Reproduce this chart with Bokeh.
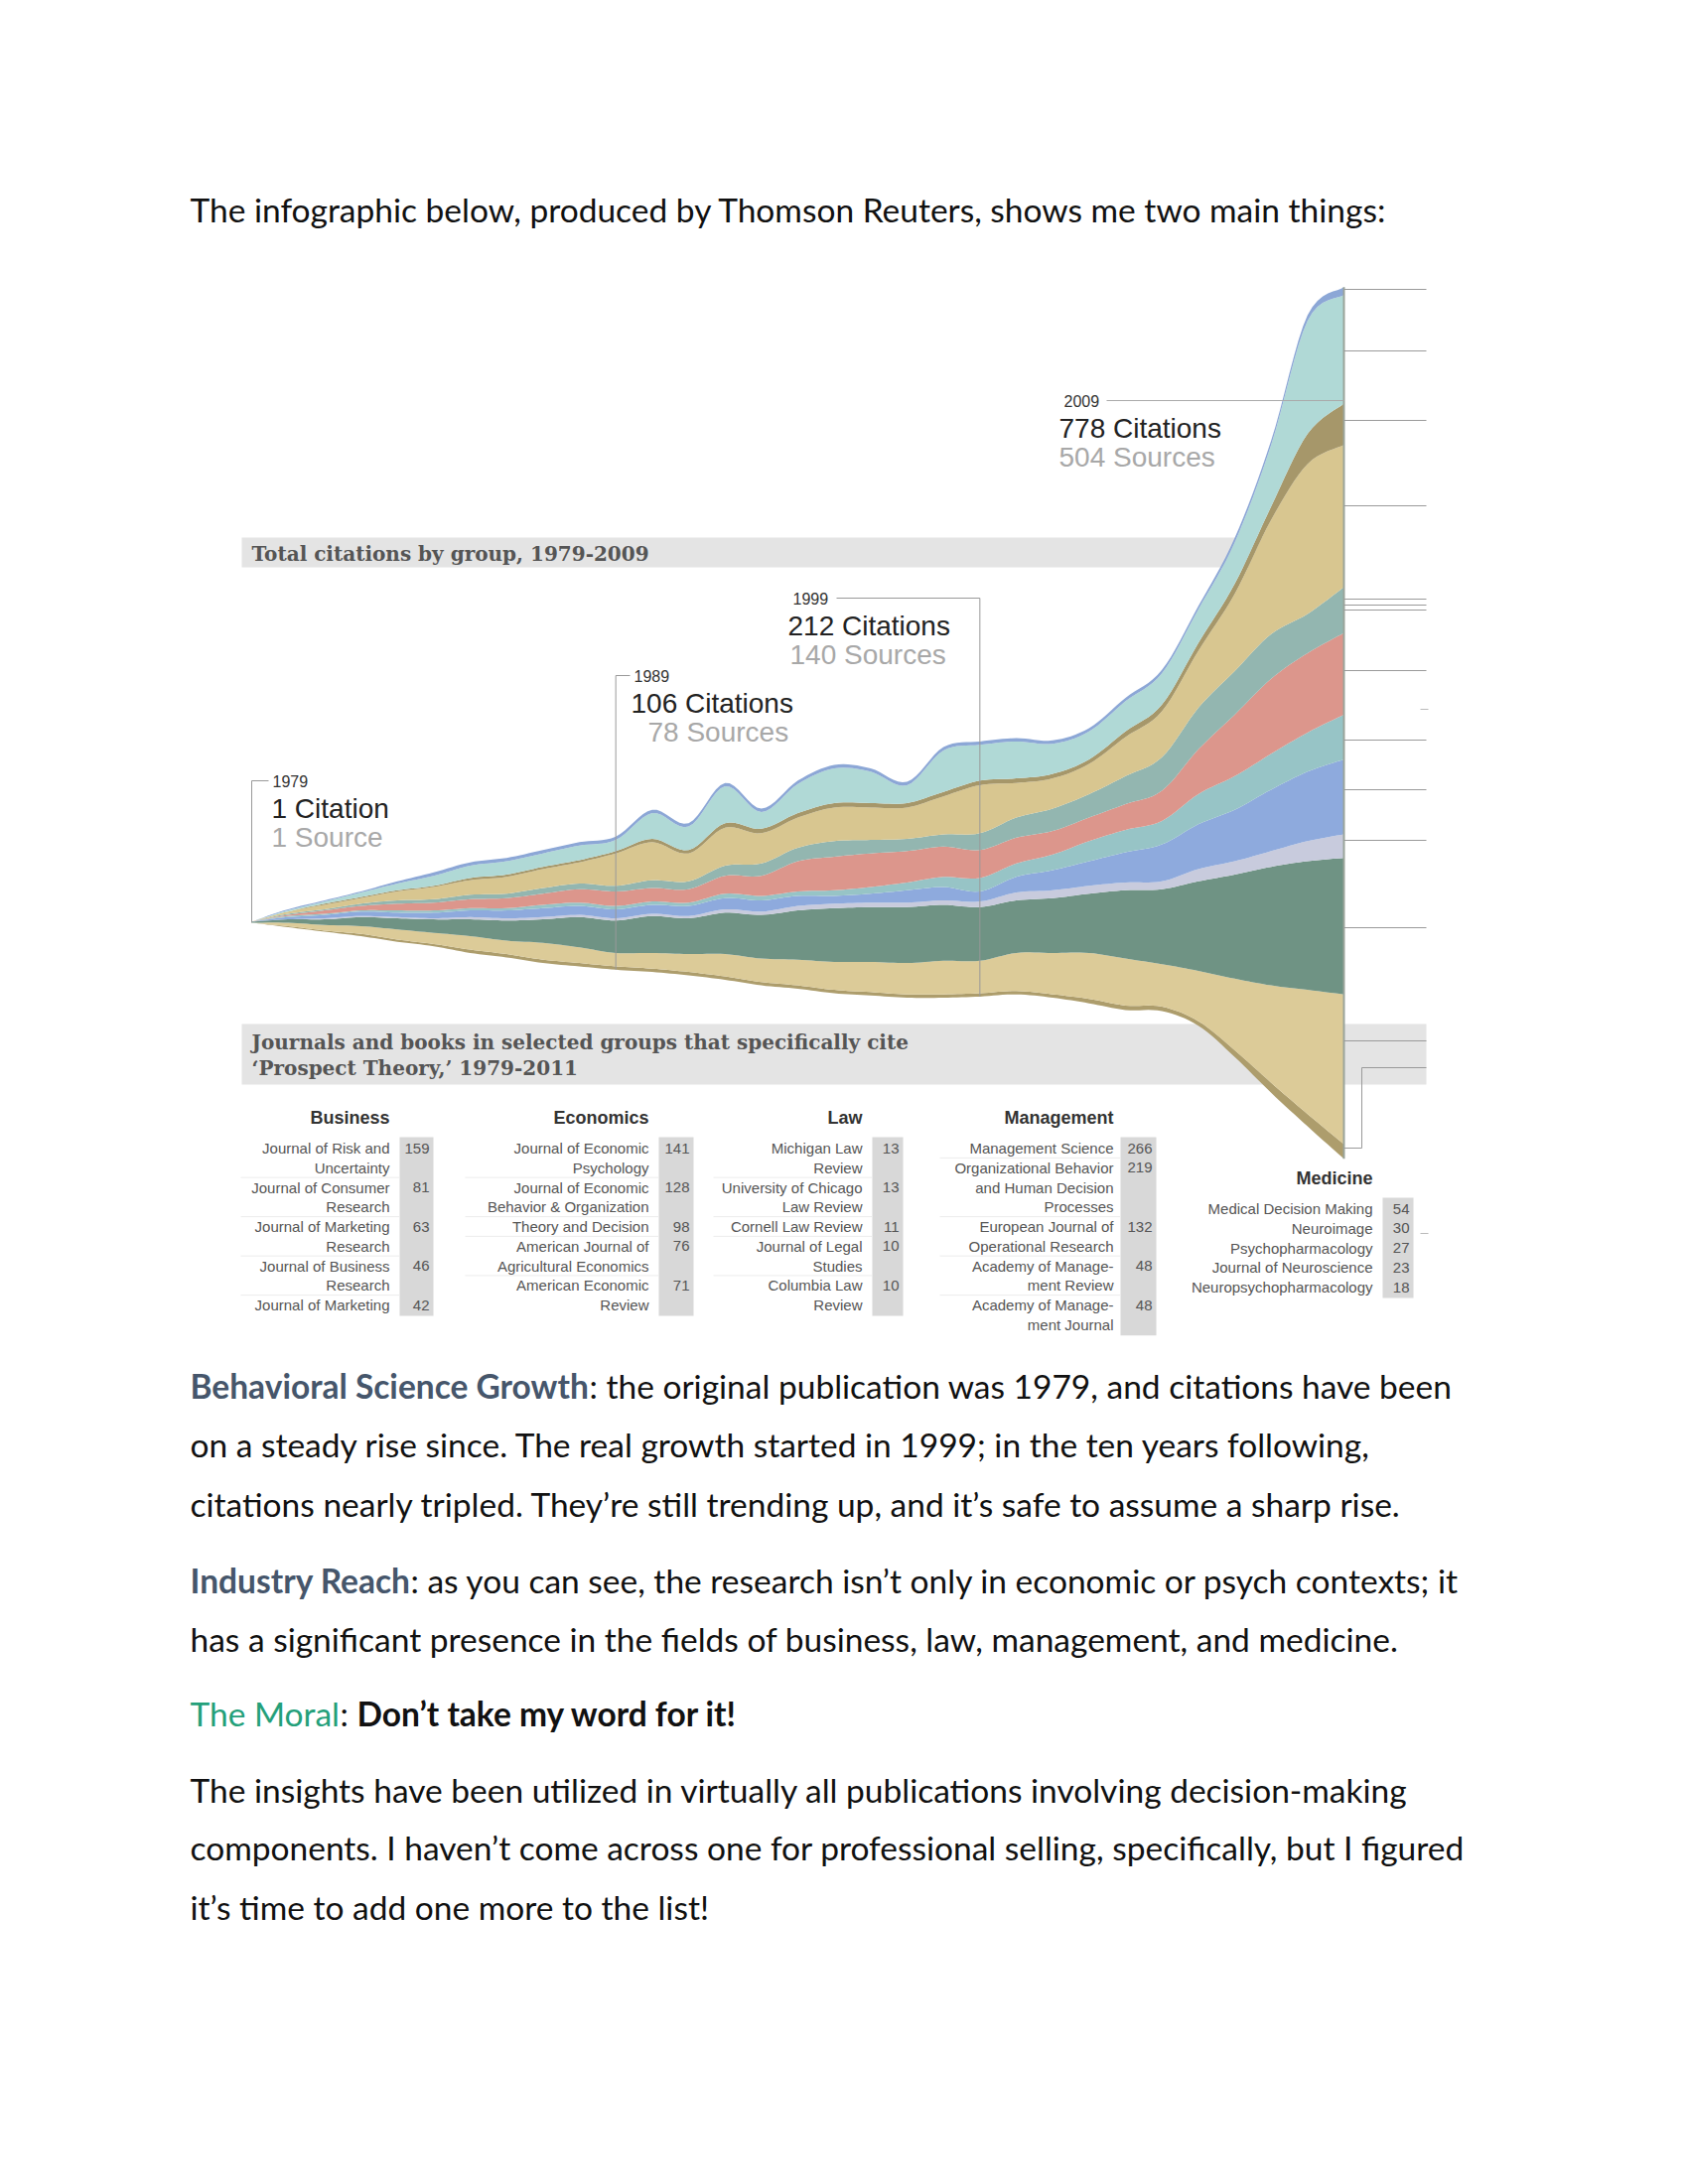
import numpy as np
from bokeh.plotting import figure
from bokeh.models import Range1d
from bokeh.core.properties import value
from bokeh.embed import file_html
from bokeh.resources import INLINE

# ---------------- data ----------------
years = list(range(1979, 2010))
# distance (citations) of the stream's lower edge below the centre line
baseline_offset = [0, 4, 8, 12, 17, 21, 27, 31, 36, 39, 42, 44, 47, 51, 56, 59, 63, 65, 67, 67,
                   66, 64, 67, 72, 78, 79, 92, 120, 152, 182, 211]
# citations per group per year, listed from the bottom of the stream upward
olive_bottom = [0, 1, 1, 2, 2, 2, 3, 3, 3, 3, 3, 3, 3, 3, 3, 3, 3, 3, 3, 3, 3, 3, 3, 4, 4, 4, 4, 6, 9, 11, 13]
tan_bottom = [0, 3, 5, 7, 9, 10, 12, 12, 15, 14, 12, 14, 16, 20, 21, 23, 25, 27, 28, 30, 29, 34, 37, 41, 42,
              38, 45, 64, 87, 111, 134]
dark_green = [1, 3, 5, 8, 10, 12, 15, 18, 21, 27, 29, 33, 32, 37, 39, 44, 48, 49, 50, 50, 48, 47, 49, 53, 61,
              67, 80, 93, 106, 115, 122]
lavender = [0, 0, 1, 1, 1, 1, 2, 2, 2, 2, 2, 2, 2, 3, 3, 4, 4, 4, 4, 4, 5, 7, 7, 7, 7, 7, 11, 12, 14, 18, 21]
blue = [0, 2, 3, 4, 4, 5, 6, 7, 8, 8, 8, 8, 9, 10, 10, 9, 7, 8, 11, 12, 9, 14, 18, 22, 27, 33, 40, 46, 55, 62, 67]
light_teal = [0, 1, 1, 1, 2, 2, 2, 2, 3, 3, 3, 3, 3, 4, 4, 4, 5, 6, 7, 9, 12, 12, 14, 18, 20, 21, 27, 30, 32,
              35, 40]
salmon = [0, 1, 3, 4, 6, 7, 8, 9, 10, 12, 13, 12, 12, 16, 18, 27, 30, 30, 28, 27, 25, 23, 21, 21, 23, 27, 40,
          55, 67, 71, 73]
grey_teal = [0, 1, 1, 2, 3, 3, 4, 4, 5, 5, 5, 7, 7, 9, 11, 12, 14, 12, 11, 11, 15, 18, 20, 21, 25, 30, 37, 39,
             40, 35, 41]
tan_top = [0, 2, 4, 5, 8, 11, 13, 15, 17, 19, 29, 34, 25, 34, 27, 27, 30, 29, 28, 34, 43, 31, 27, 27, 35, 41,
           51, 69, 102, 134, 127]
olive_top = [0, 0, 1, 1, 1, 1, 2, 2, 2, 2, 2, 3, 3, 4, 4, 4, 4, 4, 4, 4, 4, 4, 4, 4, 5, 6, 7, 9, 12, 27, 37]
cyan = [0, 1, 2, 4, 6, 9, 11, 12, 12, 13, 10, 23, 21, 33, 15, 26, 31, 28, 16, 37, 32, 33, 27, 25, 27, 28, 30,
        37, 55, 101, 97]
blue_edge = [0, 1, 1, 1, 2, 3, 3, 3, 3, 3, 3, 3, 3, 3, 3, 3, 3, 3, 3, 3, 3, 3, 3, 3, 3, 3, 3, 4, 4, 5, 7]

milestone_years = [1979, 1989, 1999, 2009]
milestone_citations = [1, 106, 212, 778]
milestone_sources = [1, 78, 140, 504]

business_journals = [["Journal of Risk and", "Uncertainty"], ["Journal of Consumer", "Research"],
                     ["Journal of Marketing", "Research"], ["Journal of Business", "Research"],
                     ["Journal of Marketing"]]
business_counts = [159, 81, 63, 46, 42]
economics_journals = [["Journal of Economic", "Psychology"], ["Journal of Economic", "Behavior & Organization"],
                      ["Theory and Decision"], ["American Journal of", "Agricultural Economics"],
                      ["American Economic", "Review"]]
economics_counts = [141, 128, 98, 76, 71]
law_journals = [["Michigan Law", "Review"], ["University of Chicago", "Law Review"], ["Cornell Law Review"],
                ["Journal of Legal", "Studies"], ["Columbia Law", "Review"]]
law_counts = [13, 13, 11, 10, 10]
management_journals = [["Management Science"], ["Organizational Behavior", "and Human Decision", "Processes"],
                       ["European Journal of", "Operational Research"], ["Academy of Manage-", "ment Review"],
                       ["Academy of Manage-", "ment Journal"]]
management_counts = [266, 219, 132, 48, 48]
medicine_journals = [["Medical Decision Making"], ["Neuroimage"], ["Psychopharmacology"],
                     ["Journal of Neuroscience"], ["Neuropsychopharmacology"]]
medicine_counts = [54, 30, 27, 23, 18]

# ---------------- layout ----------------
W, H = 1684, 2184
p = figure(width=W, height=H, x_range=Range1d(8, 8 + W), y_range=Range1d(8 + H, 8),
           x_axis_location=None, y_axis_location=None, toolbar_location=None,
           min_border=0, output_backend="svg", background_fill_color="white",
           border_fill_color="white")
p.outline_line_color = None
p.grid.visible = False

# stream scales: year 1979 -> page x 261, 2009 -> page x 1361; centre line at page y 937
X0, X1, YC, K = 261.0, 1361.0, 937.0, 1.127
A = (X1 - X0) / (years[-1] - years[0])
p.extra_x_ranges = {"yr": Range1d(years[0] - (X0 - 8) / A, years[0] + (8 + W - X0) / A)}
p.extra_y_ranges = {"cit": Range1d(-(8 + H - YC) / K, (YC - 8) / K)}


def yr_px(y):
    return X0 + (y - years[0]) * A


def cit_px(c):
    return YC - c * K


SANS = value("Liberation Sans")
SERIF = value("DejaVu Serif")
LATO = value("Lato")

# grey title bands (behind stream)
p.quad(left=[251, 251], right=[1361, 1444], top=[549, 1039], bottom=[579, 1100],
       fill_color="#e4e4e4", line_color=None)
p.text(x=[261], y=[565], text=["Total citations by group, 1979-2009"], text_font=SERIF,
       text_font_style="bold", text_font_size=value("20px"), text_color="#555555",
       text_baseline="middle")
p.text(x=[261, 261], y=[1057, 1083],
       text=["Journals and books in selected groups that specifically cite",
             "\u2018Prospect Theory,\u2019 1979-2011"], text_font=SERIF, text_font_style="bold",
       text_font_size=value("20px"), text_color="#555555", text_baseline="middle")


# ---------------- stream ----------------
def smooth(v, n=8):
    v = np.asarray(v, float)
    q = np.concatenate([[v[0]], v, [v[-1]]])
    t = np.arange(n) / n
    out = []
    for i in range(len(v) - 1):
        p0, p1, p2, p3 = q[i], q[i + 1], q[i + 2], q[i + 3]
        out.append(0.5 * (2 * p1 + (-p0 + p2) * t + (2 * p0 - 5 * p1 + 4 * p2 - p3) * t ** 2
                          + (-p0 + 3 * p1 - 3 * p2 + p3) * t ** 3))
    out.append([v[-1]])
    return np.concatenate(out)


layers = [(olive_bottom, "#ad9d6c"), (tan_bottom, "#dccb98"), (dark_green, "#6f9384"),
          (lavender, "#c8cbdd"), (blue, "#8eaadd"), (light_teal, "#97c4c6"), (salmon, "#dc968c"),
          (grey_teal, "#93b6b0"), (tan_top, "#d8c690"), (olive_top, "#a6976a"), (cyan, "#b0d9d6"),
          (blue_edge, "#8ca7d6")]

xs = smooth(years)
lower = -smooth(baseline_offset)
for vals, col in layers:
    thick = np.clip(smooth(vals), 0, None)
    upper = lower + thick
    p.varea(x=xs, y1=lower, y2=upper, fill_color=col, x_range_name="yr", y_range_name="cit")
    lower = upper

# right edge line of the stream
p.segment(x0=[years[-1]], y0=[-baseline_offset[-1]], x1=[years[-1]], y1=[lower[-1]],
          line_color="#9aa49a", line_width=2, x_range_name="yr", y_range_name="cit")

# leader lines at the right edge
lead_y = [299, 361, 431, 517, 611, 617, 622, 683, 753, 803, 854, 942, 1056]
p.segment(x0=[X1] * len(lead_y), y0=lead_y, x1=[1444] * len(lead_y), y1=lead_y,
          line_color="#9a9a9a", line_width=1)
p.line(x=[1444, 1379, 1379, X1], y=[1083, 1083, 1164, 1164], line_color="#9a9a9a", line_width=1)
p.segment(x0=[1438, 1438], y0=[722, 1250], x1=[1446, 1446], y1=[722, 1250], line_color="#bbbbbb")

# ---------------- milestone annotations ----------------
ann_label_y = [794, 688, 610, 411]
ann_text_x = [282, 646, 806, 1079]
cit_x = [281, 643, 801, 1074]
src_x = [281, 660, 803, 1074]
for i, yr in enumerate(milestone_years):
    xp = yr_px(yr)
    ly = ann_label_y[i]
    p.text(x=[ann_text_x[i]], y=[ly], text=[str(yr)], text_font=SANS, text_font_size=value("16px"),
           text_color="#333333", text_baseline="middle")
    cword = "Citation" if milestone_citations[i] == 1 else "Citations"
    sword = "Source" if milestone_sources[i] == 1 else "Sources"
    p.text(x=[cit_x[i]], y=[ly + 28], text=[f"{milestone_citations[i]} {cword}"], text_font=SANS,
           text_font_size=value("28px"), text_color="#222222", text_baseline="middle")
    p.text(x=[src_x[i]], y=[ly + 57], text=[f"{milestone_sources[i]} {sword}"], text_font=SANS,
           text_font_size=value("28px"), text_color="#a8a8a8", text_baseline="middle")
    k = years.index(yr)
    bottom_px = cit_px(-baseline_offset[k])
    if i == 3:
        p.segment(x0=[1122], y0=[ly], x1=[X1], y1=[ly], line_color="#aaaaaa", line_width=1)
    else:
        if i == 2:
            p.segment(x0=[850], y0=[ly], x1=[xp], y1=[ly], line_color="#999999", line_width=1)
        else:
            p.segment(x0=[xp], y0=[ly], x1=[ann_text_x[i] - 4], y1=[ly], line_color="#999999",
                      line_width=1)
        p.segment(x0=[xp], y0=[ly], x1=[xp], y1=[max(bottom_px, YC)], line_color="#999999",
                  line_width=1)

# ---------------- tables ----------------
PITCH = 19.75
columns = [
    ("Business", business_journals, business_counts, 400, 410, 444, 1133, 1164, 150),
    ("Economics", economics_journals, economics_counts, 661, 671, 706, 1133, 1164, 185),
    ("Law", law_journals, law_counts, 876, 886, 917, 1133, 1164, 150),
    ("Management", management_journals, management_counts, 1129, 1136, 1172, 1133, 1164, 175),
    ("Medicine", medicine_journals, medicine_counts, 1390, 1400, 1431, 1194, 1225, 185),
]
for head, journals, counts, lab_r, bx0, bx1, hy, y0, sep_w in columns:
    nlines = sum(len(j) for j in journals)
    p.quad(left=[bx0], right=[bx1], top=[y0 - 11], bottom=[y0 + (nlines - 1) * PITCH + 11],
           fill_color="#d8d8d8", line_color=None)
    p.text(x=[lab_r], y=[hy], text=[head], text_font=SANS, text_font_style="bold",
           text_font_size=value("18px"), text_color="#333333", text_align="right",
           text_baseline="middle")
    li = 0
    for j, (lines, c) in enumerate(zip(journals, counts)):
        if j > 0 and head != "Medicine":
            ys = y0 + li * PITCH - PITCH / 2
            p.segment(x0=[lab_r - sep_w], y0=[ys], x1=[bx0], y1=[ys], line_color="#ececec",
                      line_width=1)
        p.text(x=[bx1 - 4], y=[y0 + li * PITCH], text=[str(c)], text_font=SANS,
               text_font_size=value("15px"), text_color="#555555", text_align="right",
               text_baseline="middle")
        for ln in lines:
            p.text(x=[lab_r], y=[y0 + li * PITCH], text=[ln], text_font=SANS,
                   text_font_size=value("15px"), text_color="#555555", text_align="right",
                   text_baseline="middle")
            li += 1

# ---------------- article text ----------------
SLATE = "#46566b"
GREEN = "#24a07a"
INK = "#111111"
para = [
    (218, [(199, "The infographic below, produced by Thomson Reuters, shows me two main things:", "normal", INK)]),
    (1403, [(199, "Behavioral Science Growth", "bold", SLATE),
            (601, ": the original publication was 1979, and citations have been", "normal", INK)]),
    (1462, [(199, "on a steady rise since. The real growth started in 1999; in the ten years following,", "normal", INK)]),
    (1522, [(199, "citations nearly tripled. They\u2019re still trending up, and it\u2019s safe to assume a sharp rise.", "normal", INK)]),
    (1599, [(199, "Industry Reach", "bold", SLATE),
            (421, ": as you can see, the research isn\u2019t only in economic or psych contexts; it", "normal", INK)]),
    (1658, [(199, "has a significant presence in the fields of business, law, management, and medicine.", "normal", INK)]),
    (1733, [(199, "The Moral", "normal", GREEN), (350, ":", "normal", INK),
            (367, "Don\u2019t take my word for it!", "bold", INK)]),
    (1810, [(199, "The insights have been utilized in virtually all publications involving decision-making", "normal", INK)]),
    (1868, [(199, "components. I haven\u2019t come across one for professional selling, specifically, but I figured", "normal", INK)]),
    (1928, [(199, "it\u2019s time to add one more to the list!", "normal", INK)]),
]
for yy, segs in para:
    for xx, txt, style, col in segs:
        p.text(x=[xx], y=[yy], text=[txt], text_font=LATO, text_font_style=style,
               text_font_size=value("33.5px"), text_color=col, text_baseline="middle")

open("out.html", "w").write(file_html(p, INLINE))
